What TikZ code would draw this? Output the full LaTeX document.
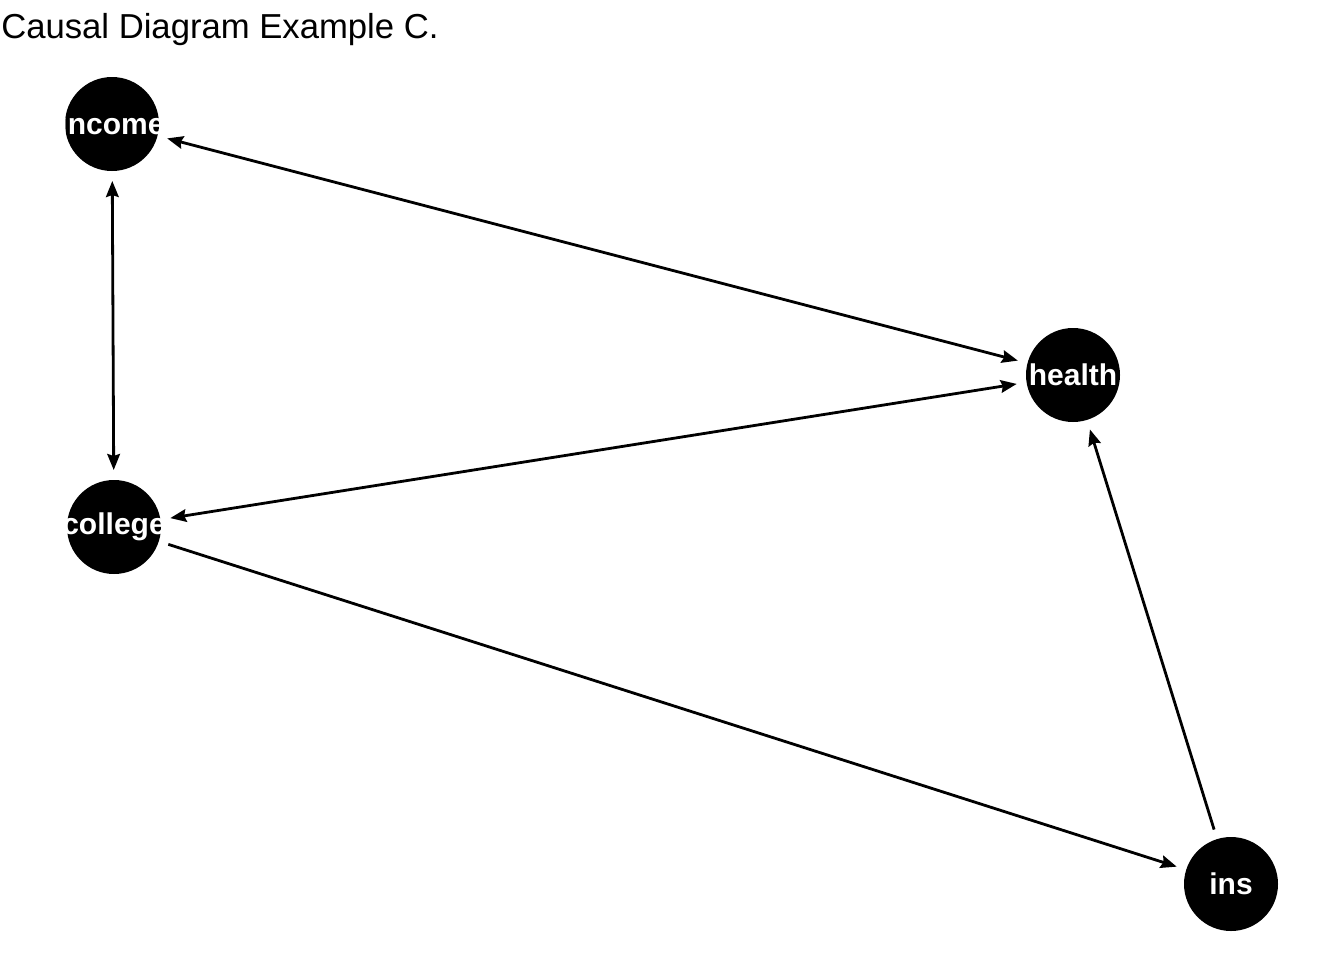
\documentclass[tikz,border=0pt]{standalone}
\usepackage{fontspec}
\setmainfont{Liberation Sans}
\usepackage{tikz}
\usetikzlibrary{arrows.meta}
\tikzset{>={Stealth[length=12pt, width=9.5pt, inset=1.5pt]}}

\begin{document}
\begin{tikzpicture}[x=0.75pt, y=-0.75pt,
    var/.style={circle, fill=black, minimum size=70.5pt, inner sep=0pt, outer sep=7.5pt, text=white, font=\fontsize{22.5}{26}\selectfont\bfseries},
    edge/.style={line width=2.1pt}]
    % Frame
    \useasboundingbox (0,0) rectangle (1344,960);

    % Title
    \node[anchor=west, inner sep=0pt, font=\fontsize{26}{30}\selectfont] (title) at (1,30) {Causal Diagram Example C.};

    % Nodes
    \node[var] (income) at (112,124) {\makebox[0pt]{income}};
    \node[var] (college) at (114,527) {\makebox[0pt]{college}};
    \node[var] (health) at (1073,375) {\makebox[0pt]{health}};
    \node[var] (ins) at (1231,884) {\makebox[0pt]{ins}};

    % Edges
    \draw[edge, <->] (income) -- (college);
    \draw[edge, <->] (income) -- (health);
    \draw[edge, <->] (college) -- (health);
    \draw[edge, ->] (college) -- (ins);
    \draw[edge, ->] (ins) -- (health);
\end{tikzpicture}
\end{document}
